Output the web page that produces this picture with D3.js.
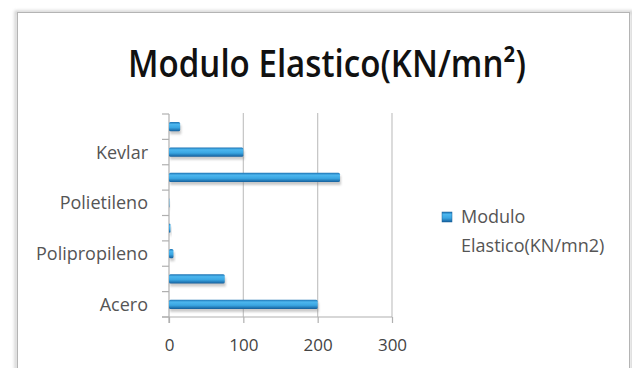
<!DOCTYPE html>
<html>
<head>
<meta charset="utf-8">
<script src="https://cdn.jsdelivr.net/npm/d3@7"></script>
<style>
  html, body { margin: 0; padding: 0; background: #fff; }
  svg { display: block; }
</style>
</head>
<body>
<script>
// ---- data ----
const title = "Modulo Elastico(KN/mn²)";
const seriesName = "Modulo Elastico(KN/mn2)";
const categories = ["Acero", "", "Polipropileno", "", "Polietileno", "", "Kevlar", ""];
const values = [200, 75, 6, 2, 0.5, 230, 100, 15];
const xTicks = [0, 100, 200, 300];

// ---- layout ----
const W = 632, H = 368;
const plot = { left: 169, right: 392, top: 114, bottom: 317 };
const font = "'Open Sans', 'Liberation Sans', sans-serif";

const svg = d3.select("body").append("svg").attr("width", W).attr("height", H);
const defs = svg.append("defs");

const grad = defs.append("linearGradient").attr("id", "barGrad")
  .attr("x1", 0).attr("y1", 0).attr("x2", 0).attr("y2", 1);
grad.append("stop").attr("offset", "0%").attr("stop-color", "#1d74b4");
grad.append("stop").attr("offset", "25%").attr("stop-color", "#4cb6ee");
grad.append("stop").attr("offset", "60%").attr("stop-color", "#3aa6e2");
grad.append("stop").attr("offset", "100%").attr("stop-color", "#155f9c");

const blur = defs.append("filter").attr("id", "blur").attr("x", "-20%").attr("y", "-50%")
  .attr("width", "140%").attr("height", "200%");
blur.append("feGaussianBlur").attr("stdDeviation", 1.2);

const frameShadow = defs.append("filter").attr("id", "frameShadow").attr("x", "-5%").attr("y", "-5%")
  .attr("width", "110%").attr("height", "110%");
frameShadow.append("feGaussianBlur").attr("stdDeviation", 1.5);

// chart frame
svg.append("rect").attr("x", 16).attr("y", 12).attr("width", 616).attr("height", 380)
  .attr("fill", "none").attr("stroke", "#d0d0d0").attr("stroke-width", 3).attr("filter", "url(#frameShadow)");
svg.append("rect").attr("x", 17.5).attr("y", 12.5).attr("width", 612).attr("height", 370)
  .attr("fill", "#fff").attr("stroke", "#b4b4b4").attr("stroke-width", 1);
svg.append("line").attr("x1", 17).attr("x2", 17).attr("y1", 13).attr("y2", H)
  .attr("stroke", "#8c8c8c").attr("stroke-width", 2.5).attr("filter", "url(#frameShadow)");

// title: sized to cap height, then fitted horizontally to the reference width
const titleW = 398, titleCap = 26.5, titleCx = 327, titleBase = 77;
const fs = titleCap / 0.714;
const tg = svg.append("g");
const t = tg.append("text").attr("x", 0).attr("y", 0).attr("text-anchor", "middle")
  .attr("font-family", font).attr("font-weight", 600).attr("font-size", fs)
  .attr("fill", "#111").text(title);
const tw = t.node().getComputedTextLength();
tg.attr("transform", `translate(${titleCx},${titleBase}) scale(${titleW / tw},1)`);

// scales
const x = d3.scaleLinear().domain([0, 300]).range([plot.left, plot.right]);
const y = d3.scaleBand().domain(d3.range(categories.length)).range([plot.bottom, plot.top])
  .paddingInner(0.64).paddingOuter(0.32);
const yb = d3.scaleBand().domain(d3.range(categories.length)).range([plot.bottom, plot.top]);

// gridlines
svg.append("g").selectAll("line").data(xTicks.filter(d => d > 0)).join("line")
  .attr("x1", d => x(d)).attr("x2", d => x(d))
  .attr("y1", plot.top - 1).attr("y2", plot.bottom)
  .attr("stroke", "#c4c4c4").attr("stroke-width", 1.2);

// x axis
const xAxis = svg.append("g").attr("transform", `translate(0,${plot.bottom})`)
  .call(d3.axisBottom(x).tickValues(xTicks).tickSize(6).tickSizeOuter(0));
xAxis.select(".domain").attr("stroke", "#b0b0b0").attr("stroke-width", 1.2)
  .attr("d", `M${plot.left - 7},0H${plot.right}`);
xAxis.selectAll(".tick line").attr("stroke", "#b0b0b0").attr("stroke-width", 1.2);
xAxis.selectAll("text").attr("dy", null).attr("y", 34)
  .attr("font-family", font).attr("font-size", 17).attr("fill", "#444");

// y axis line + boundary ticks
const yg = svg.append("g");
yg.append("line").attr("x1", plot.left).attr("x2", plot.left)
  .attr("y1", plot.top).attr("y2", plot.bottom + 6)
  .attr("stroke", "#b0b0b0").attr("stroke-width", 1.2);
yg.selectAll("line.tk").data(d3.range(categories.length + 1)).join("line").attr("class", "tk")
  .attr("x1", plot.left - 7).attr("x2", plot.left)
  .attr("y1", i => i < categories.length ? yb(i) + yb.bandwidth() : yb(categories.length - 1))
  .attr("y2", i => i < categories.length ? yb(i) + yb.bandwidth() : yb(categories.length - 1))
  .attr("stroke", "#b0b0b0").attr("stroke-width", 1.2);

const yAxis = svg.append("g").attr("transform", `translate(${plot.left - 21},0)`)
  .call(d3.axisLeft(yb).tickSize(0).tickPadding(0).tickFormat(i => categories[i]));
yAxis.select(".domain").remove();
yAxis.selectAll("text").attr("font-family", font).attr("font-size", 18).attr("fill", "#555")
  .attr("dy", "0.36em");

// bars: shadow then bar
const bars = svg.append("g");
bars.selectAll("rect.sh").data(values).join("rect").attr("class", "sh")
  .attr("x", x(0) + 1).attr("y", (d, i) => y(i) + 3)
  .attr("width", d => Math.max(0, x(d) - x(0)))
  .attr("height", y.bandwidth())
  .attr("fill", "#8a8a8a").attr("opacity", 0.45).attr("filter", "url(#blur)");
bars.selectAll("rect.bar").data(values).join("rect").attr("class", "bar")
  .attr("x", x(0)).attr("y", (d, i) => y(i))
  .attr("width", d => Math.max(0, x(d) - x(0)))
  .attr("height", y.bandwidth())
  .attr("rx", 1.5)
  .attr("fill", "url(#barGrad)");

// legend
const lg = svg.append("g");
lg.append("rect").attr("x", 442).attr("y", 212).attr("width", 10).attr("height", 10)
  .attr("fill", "url(#barGrad)").attr("stroke", "#1a5f98").attr("stroke-width", 0.5);
const words = seriesName.split(" ");
lg.selectAll("text").data(words).join("text")
  .attr("x", 461).attr("y", (d, i) => 223 + i * 29)
  .attr("font-family", font).attr("font-size", 18).attr("fill", "#555")
  .text(d => d);
</script>
</body>
</html>
